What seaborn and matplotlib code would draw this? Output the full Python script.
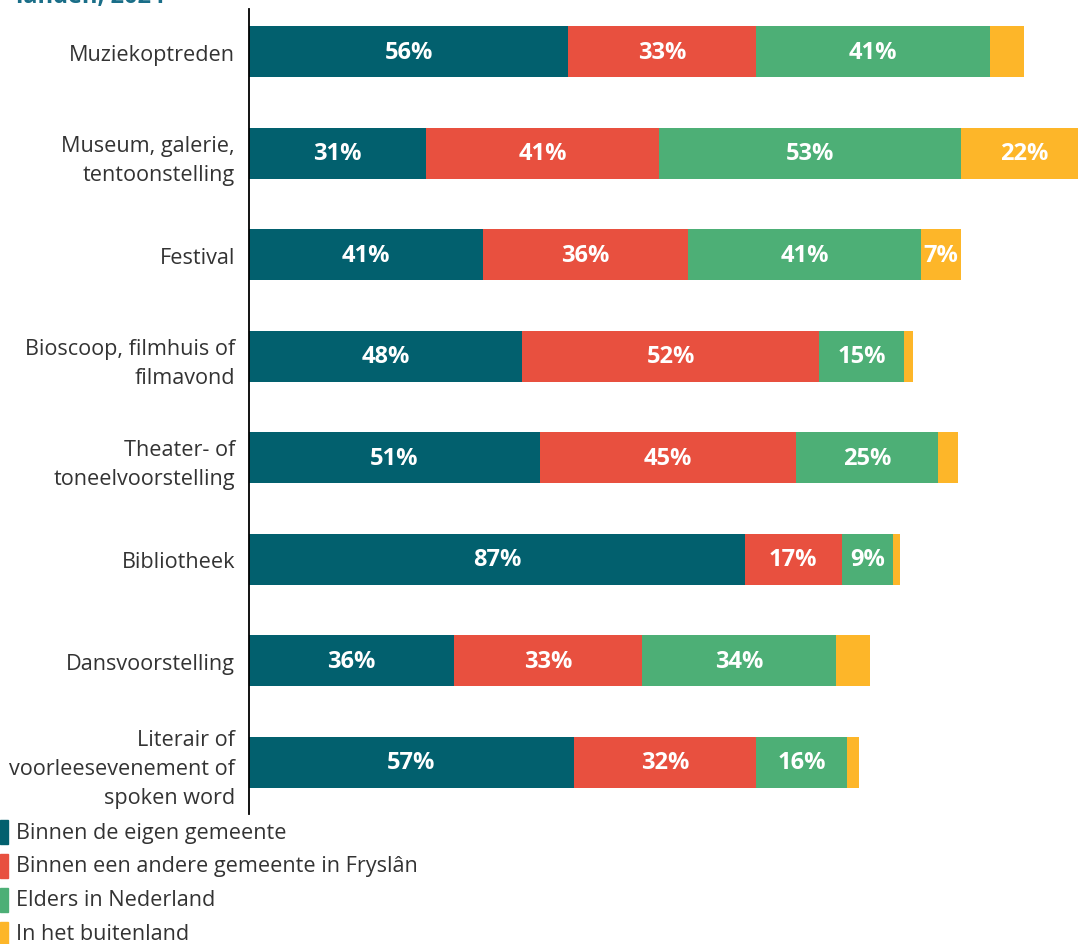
import pandas as pd
import matplotlib.pyplot as plt
import seaborn as sns
from matplotlib.patches import Rectangle

# Data (percentages)
categories = [
    "Muziekoptreden",
    "Museum, galerie,\ntentoonstelling",
    "Festival",
    "Bioscoop, filmhuis of\nfilmavond",
    "Theater- of\ntoneelvoorstelling",
    "Bibliotheek",
    "Dansvoorstelling",
    "Literair of\nvoorleesevenement of\nspoken word",
]
eigen_gemeente = [56, 31, 41, 48, 51, 87, 36, 57]
andere_gemeente = [33, 41, 36, 52, 45, 17, 33, 32]
elders_nl = [41, 53, 41, 15, 25, 9, 34, 16]
buitenland = [6, 22, 7, 1.5, 3.5, 1.2, 6, 2]

series_names = [
    "Binnen de eigen gemeente",
    "Binnen een andere gemeente in Fryslân",
    "Elders in Nederland",
    "In het buitenland",
]
colors = ["#02606e", "#e8503f", "#4daf76", "#fdb629"]

cols = ["eigen", "andere", "elders", "buiten"]
df = pd.DataFrame({
    "categorie": categories,
    "eigen": eigen_gemeente,
    "andere": andere_gemeente,
    "elders": elders_nl,
    "buiten": buitenland,
})
cum = df[cols].cumsum(axis=1)
cum["categorie"] = categories

sns.set_style("white")
plt.rcParams["font.family"] = ["Open Sans", "DejaVu Sans"]

W, H = 1078, 945
fig = plt.figure(figsize=(W / 100, H / 100), dpi=100)
ax = fig.add_axes([249 / W, 1 - 815 / H, 1 - 249 / W, 805 / H])

# stacked bars: draw cumulative totals from the outside in
for col, c in reversed(list(zip(cols, colors))):
    sns.barplot(data=cum, x=col, y="categorie", color=c, width=0.5,
                linewidth=0, saturation=1, orient="h", ax=ax)

# percentage labels inside the segments
for i in range(len(df)):
    for col in cols:
        v = df.loc[i, col]
        if v >= 7:
            ax.text(cum.loc[i, col] - v / 2, i, f"{v:.0f}%", ha="center",
                    va="center", color="white", fontsize=17,
                    fontweight="bold")

ax.set_xlim(0, 145.5)
ax.set_ylim(7.51, -0.42)
ax.set_xlabel("")
ax.set_ylabel("")
ax.set_xticks([])
for s in ["top", "right", "bottom"]:
    ax.spines[s].set_visible(False)
ax.spines["left"].set_color("black")
ax.spines["left"].set_linewidth(1.3)
ax.tick_params(axis="y", length=0, pad=10, labelsize=15.6, labelcolor="#333333")
for lbl in ax.get_yticklabels():
    lbl.set_linespacing(1.5)

# legend at bottom left
for k, (name, c) in enumerate(zip(series_names, colors)):
    yc = 1 - (833 + k * 34) / H
    fig.patches.append(Rectangle((0, yc - 12 / H), 8 / W, 24 / H,
                                 transform=fig.transFigure, color=c))
    fig.text(16 / W, yc, name, va="center", ha="left", fontsize=15.6,
             color="#333333")

# title, cut off at the top of the image
fig.text(165 / W, 1 - 3 / H, "landen, 2024", ha="right", va="baseline",
         fontsize=17, fontweight="bold", color="#1a6e88")

fig.savefig("out.png", dpi=100)
